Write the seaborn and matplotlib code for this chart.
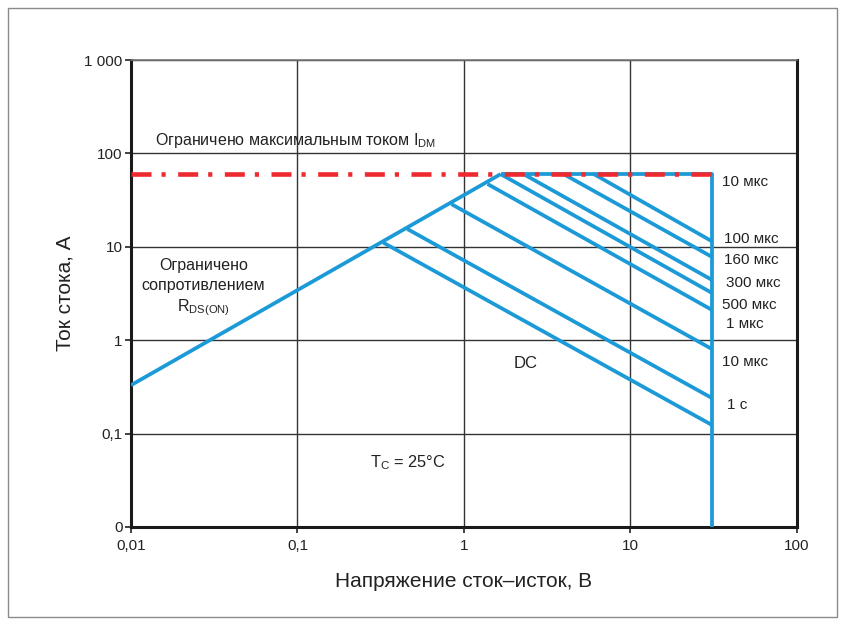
import matplotlib
matplotlib.use("Agg")
import matplotlib.pyplot as plt
import pandas as pd
import seaborn as sns
from matplotlib.patches import Rectangle

# Axis ticks
x_ticks = [0.01, 0.1, 1, 10, 100]
x_tick_labels = ["0,01", "0,1", "1", "10", "100"]
y_ticks = [0.01, 0.1, 1, 10, 100, 1000]
y_tick_labels = ["0", "0,1", "1", "10", "100", "1 000"]

# Limits of the safe operating area
i_dm = 60          # maximum pulsed drain current, A
v_max = 31         # maximum drain-source voltage, V
rds_v = [0.01, 1.66]
rds_i = [0.33, 60]

# Pulse-duration boundaries: start point on the limit, end at v_max
pulse_v_start = [6.03, 3.97, 2.28, 1.66, 1.385, 0.841, 0.457, 0.327]
pulse_i_start = [60, 60, 60, 60, 47.0, 28.6, 15.5, 11.1]
pulse_i_end = [11.4, 7.76, 4.4, 3.19, 2.1, 0.80, 0.239, 0.123]

pulse_labels = ["10 мкс", "100 мкс", "160 мкс", "300 мкс",
                "500 мкс", "1 мкс", "10 мкс", "1 с"]
# label layout (axes fractions)
label_x = [0.888, 0.891, 0.891, 0.893, 0.888, 0.893, 0.887, 0.895]
label_y = [0.739, 0.617, 0.571, 0.523, 0.476, 0.434, 0.354, 0.262]

BLUE = "#1b9ad7"
RED = "#ee2a2f"
INK = "#222222"

sns.set_theme(style="white")
plt.rcParams["font.family"] = ["Liberation Sans", "DejaVu Sans"]
plt.rcParams["mathtext.fontset"] = "custom"
plt.rcParams["mathtext.rm"] = "Liberation Sans"
plt.rcParams["lines.scale_dashes"] = False

fig = plt.figure(figsize=(8.45, 6.3), dpi=100)
ax = fig.add_axes([131 / 845, 1 - 527 / 630, 666 / 845, 467 / 630])
ax.set_xscale("log")
ax.set_yscale("log")

# Build line segments
rows = []
seg = 0
for v, i in zip(rds_v, rds_i):
    rows.append((seg, v, i))
seg += 1
rows.append((seg, rds_v[-1], i_dm))
rows.append((seg, v_max, i_dm))
rows.append((seg, v_max, 0.01))
for vs, is_, ie in zip(pulse_v_start, pulse_i_start, pulse_i_end):
    seg += 1
    rows.append((seg, vs, is_))
    rows.append((seg, v_max, ie))
df = pd.DataFrame(rows, columns=["seg", "V", "I"])

sns.lineplot(data=df, x="V", y="I", units="seg", estimator=None, sort=False,
             color=BLUE, lw=2.7, legend=False, ax=ax, zorder=3,
             solid_capstyle="butt")

lim = pd.DataFrame({"V": [0.01, v_max], "I": [i_dm, i_dm]})
sns.lineplot(data=lim, x="V", y="I", color=RED, lw=3.3, ax=ax, zorder=4,
             legend=False)
red_line = ax.lines[-1]
red_line.set_linestyle((0, (14.4, 7.2, 3.0, 9.0)))
red_line.set_dash_capstyle("butt")

ax.set_xlim(0.01, 100)
ax.set_ylim(0.01, 1000)
ax.set_xticks(x_ticks)
ax.set_xticklabels(x_tick_labels)
ax.set_yticks(y_ticks)
ax.set_yticklabels(y_tick_labels)
ax.minorticks_off()
ax.tick_params(axis="both", direction="out", length=4, width=1.2,
               color=INK, labelsize=11, labelcolor=INK,
               left=True, bottom=True)
ax.tick_params(axis="x", pad=5)
ax.tick_params(axis="y", pad=2)
ax.grid(True, which="major", color="#333333", lw=1.0, zorder=1)

for side in ["left", "bottom", "right"]:
    ax.spines[side].set_color("#1a1a1a")
    ax.spines[side].set_linewidth(2.2)
ax.spines["top"].set_color("#777777")
ax.spines["top"].set_linewidth(1.2)
ax.set_axisbelow(True)

ax.set_xlabel("Напряжение сток–исток, В", fontsize=15, color=INK,
              labelpad=13)
ax.set_ylabel("Ток стока, А", fontsize=15, color=INK, labelpad=7)

ax.text(0.0139, 139, r"Ограничено максимальным током I$_\mathregular{DM}$",
        ha="left", va="center", fontsize=11.5, color=INK)
ax.text(0.0273, 3.6,
        "Ограничено\nсопротивлением\n" + r"R$_\mathregular{DS(ON)}$",
        ha="center", va="center", linespacing=1.35, fontsize=11.5, color=INK)
ax.text(2.35, 0.567, "DC", ha="center", va="center", fontsize=12, color=INK)
ax.text(0.273, 0.049, r"T$_\mathregular{C}$ = 25°C", ha="left",
        va="center", fontsize=11.8, color=INK)

for lab, lx, ly in zip(pulse_labels, label_x, label_y):
    ax.text(lx, ly, lab, transform=ax.transAxes, ha="left", va="center",
            clip_on=False, fontsize=11, color=INK)

# Outer frame of the figure
fig.patches.append(Rectangle((8 / 845, 1 - 617 / 630), 829 / 845, 609 / 630,
                             transform=fig.transFigure, fill=False,
                             edgecolor="#8a8a8a", lw=1.0))

fig.savefig("out.png", dpi=100)
